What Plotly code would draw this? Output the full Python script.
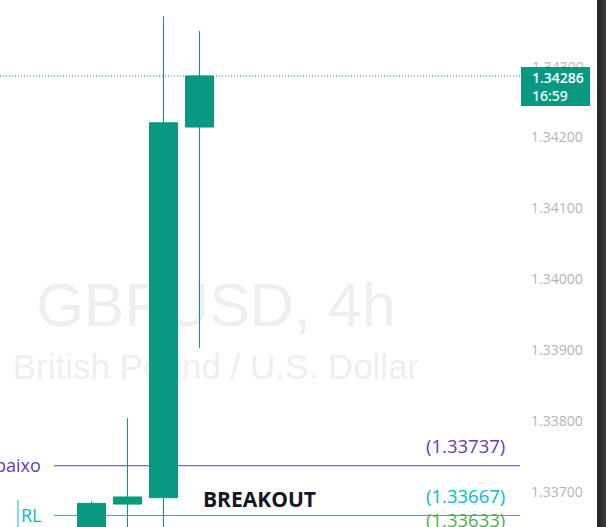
import plotly.graph_objects as go

# ---- data ----
candle_x = [0, 1, 2, 3]
opens = [1.33600, 1.33683, 1.33692, 1.34214]
highs = [1.33687, 1.33804, 1.34370, 1.34349]
lows = [1.33580, 1.33620, 1.33630, 1.33903]
closes = [1.33684, 1.33693, 1.34220, 1.34286]

level_values = [1.33737, 1.33667, 1.33633]
level_colors = ["#673ab7", "#00bcd4", "#4caf50"]
left_labels = ["abaixo", "RL"]

y_ticks = [1.337, 1.338, 1.339, 1.340, 1.341, 1.342]
y_ticks_hidden = [1.343, 1.344]   # partly covered / cut at top edge
countdown = "16:59"
symbol_text = "GBPUSD, 4h"
desc_text = "British Pound / U.S. Dollar"
note_text = "BREAKOUT"

# ---- layout geometry (pixels) ----
W, H = 606, 527
PW = 520  # plot width
PX_PER_PRICE = 71000.0
Y_TOP = 1.342 + 137 / PX_PER_PRICE
Y_BOT = Y_TOP - H / PX_PER_PRICE
BAR_PX = 36.0
X0_PX = 91.5
x_range = [-X0_PX / BAR_PX, (PW - X0_PX) / BAR_PX]

def px(x):
    return x / PW

def py(y):
    return 1 - y / H

def pv(v):
    return (v - Y_BOT) / (Y_TOP - Y_BOT)

GREEN = "#089981"
TICK_COLOR = "#b2b5be"
label_font = "Open Sans"

fig = go.Figure()

# watermark (first subplot, drawn below candles)
fig.add_trace(go.Scatter(
    x=[216, 216], y=[311, 370], mode="text",
    text=[symbol_text, desc_text],
    textfont=dict(family="Liberation Sans", size=[61, 35], color="#efefef"),
    xaxis="x", yaxis="y", hoverinfo="skip", showlegend=False,
))

fig.add_trace(go.Candlestick(
    x=candle_x, open=opens, high=highs, low=lows, close=closes,
    increasing=dict(line=dict(color=GREEN, width=1), fillcolor=GREEN),
    decreasing=dict(line=dict(color="#f23645", width=1), fillcolor="#f23645"),
    xaxis="x2", yaxis="y2", hoverinfo="skip", showlegend=False,
))

shapes = []
for v, c in zip(level_values, level_colors):
    shapes.append(dict(type="line", xref="paper", yref="y2", x0=px(54), x1=1,
                       y0=v, y1=v, line=dict(color=c, width=1), layer="below"))
shapes.append(dict(type="line", xref="paper", yref="y2", x0=0, x1=1,
                   y0=closes[-1], y1=closes[-1],
                   line=dict(color=GREEN, width=1, dash="1px,2px"), layer="below"))
shapes.append(dict(type="line", xref="paper", yref="paper", x0=px(18), x1=px(18),
                   y0=py(500), y1=py(530), line=dict(color="#00bcd4", width=1)))
shapes.append(dict(type="rect", xref="paper", yref="paper", x0=px(597), x1=px(602),
                   y0=-0.01, y1=1.01, fillcolor="#2a2a2a", line=dict(width=0), layer="above"))
shapes.append(dict(type="rect", xref="paper", yref="paper", x0=px(602), x1=px(607),
                   y0=-0.01, y1=1.01, fillcolor="#363636", line=dict(width=0), layer="above"))

ann = []
# tick labels near the top (drawn first, price box covers them)
for t in y_ticks_hidden:
    ann.append(dict(text="%.5f" % t, xref="paper", yref="paper", x=px(530), y=pv(t),
                    xanchor="left", yanchor="middle", showarrow=False,
                    font=dict(family=label_font, size=14, color=TICK_COLOR)))
# price label box
ann.append(dict(text=" ", xref="paper", yref="paper", x=px(521), y=py(67),
                xanchor="left", yanchor="top", showarrow=False, width=69, height=39,
                borderpad=0, borderwidth=0, bgcolor=GREEN,
                font=dict(family=label_font, size=10, color=GREEN)))
ann.append(dict(text="%.5f" % closes[-1], xref="paper", yref="paper", x=px(530), y=py(77.5),
                xanchor="left", yanchor="middle", showarrow=False,
                font=dict(family=label_font, size=14, color="#ffffff", weight=600)))
ann.append(dict(text=countdown, xref="paper", yref="paper", x=px(530), y=py(95),
                xanchor="left", yanchor="middle", showarrow=False,
                font=dict(family=label_font, size=14, color="#e8f5f2", weight=600)))

for v, c in zip(level_values, level_colors):
    ann.append(dict(text="(%.5f)" % v, xref="paper", yref="paper", x=px(507), y=pv(v),
                    xanchor="right", yanchor="middle", yshift=20, showarrow=False,
                    font=dict(family=label_font, size=18.5, color=c)))
ann.append(dict(text=left_labels[0], xref="paper", yref="paper", x=px(43), y=pv(level_values[0]),
                xanchor="right", yanchor="middle", yshift=1, showarrow=False,
                font=dict(family=label_font, size=18, color=level_colors[0])))
ann.append(dict(text=left_labels[1], xref="paper", yref="paper", x=px(19), y=pv(level_values[1]),
                xanchor="left", yanchor="middle", yshift=0, showarrow=False,
                font=dict(family=label_font, size=18, color=level_colors[1])))
ann.append(dict(text="<b>%s</b>" % note_text, xref="paper", yref="paper", x=px(259.5), y=py(498.5),
                xanchor="center", yanchor="middle", showarrow=False,
                font=dict(family=label_font, size=21, color="#131722")))

fig.update_layout(
    width=W, height=H, autosize=False,
    margin=dict(l=0, r=W - PW, t=0, b=0, pad=0),
    paper_bgcolor="white", plot_bgcolor="white",
    boxgap=0.222, boxgroupgap=0,
    xaxis=dict(range=[0, PW], visible=False, fixedrange=True),
    yaxis=dict(range=[H, 0], visible=False, fixedrange=True),
    xaxis2=dict(range=x_range, overlaying="x", visible=False, rangeslider=dict(visible=False),
                fixedrange=True),
    yaxis2=dict(range=[Y_BOT, Y_TOP], overlaying="y", side="right", showgrid=False,
                zeroline=False, showline=False, ticks="", tickvals=y_ticks,
                ticktext=["%.5f" % t for t in y_ticks],
                tickfont=dict(family=label_font, size=14, color=TICK_COLOR),
                ticklabelstandoff=10, fixedrange=True),
    shapes=shapes, annotations=ann, showlegend=False,
)

fig.write_html("out.html")
